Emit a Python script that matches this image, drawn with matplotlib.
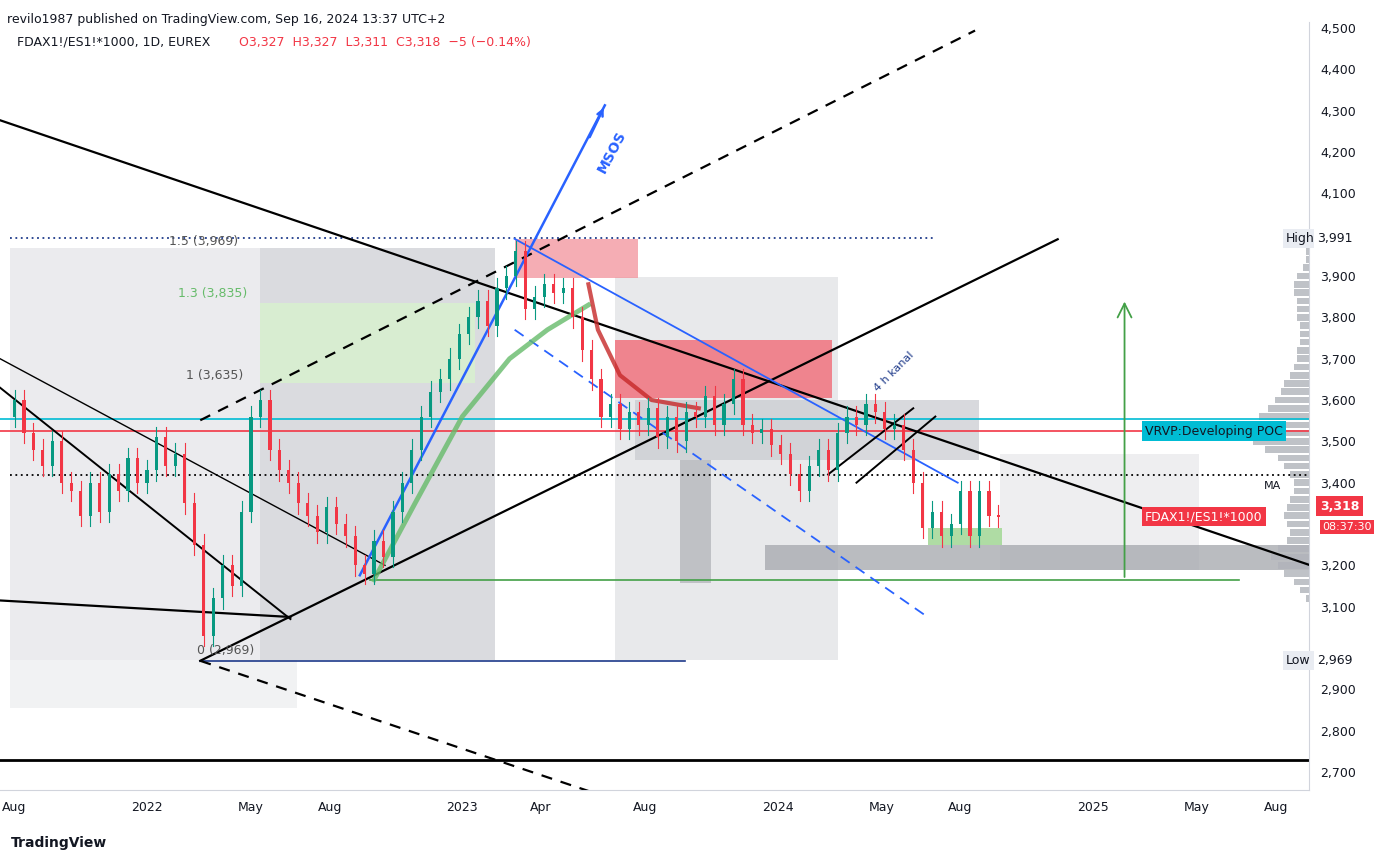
import matplotlib.pyplot as plt
from matplotlib.patches import Rectangle
from matplotlib.ticker import FuncFormatter

# price path (fractional year, close)
dates = [2021.55, 2021.58, 2021.61, 2021.64, 2021.67, 2021.70, 2021.73, 2021.76, 2021.79, 2021.82,
         2021.85, 2021.88, 2021.91, 2021.94, 2021.97, 2022.00, 2022.03, 2022.06, 2022.09, 2022.12,
         2022.15, 2022.18, 2022.21, 2022.24, 2022.27, 2022.30, 2022.33, 2022.36, 2022.39, 2022.42,
         2022.45, 2022.48, 2022.51, 2022.54, 2022.57, 2022.60, 2022.63, 2022.66, 2022.69, 2022.72,
         2022.75, 2022.78, 2022.81, 2022.84, 2022.87, 2022.90, 2022.93, 2022.96, 2022.99, 2023.02,
         2023.05, 2023.08, 2023.11, 2023.14, 2023.17, 2023.20, 2023.23, 2023.26, 2023.29, 2023.32,
         2023.35, 2023.38, 2023.41, 2023.44, 2023.47, 2023.50, 2023.53, 2023.56, 2023.59, 2023.62,
         2023.65, 2023.68, 2023.71, 2023.74, 2023.77, 2023.80, 2023.83, 2023.86, 2023.89, 2023.92,
         2023.95, 2023.98, 2024.01, 2024.04, 2024.07, 2024.10, 2024.13, 2024.16, 2024.19, 2024.22,
         2024.25, 2024.28, 2024.31, 2024.34, 2024.37, 2024.40, 2024.43, 2024.46, 2024.49, 2024.52,
         2024.55, 2024.58, 2024.61, 2024.64, 2024.67, 2024.70]
closes = [3560, 3600, 3520, 3480, 3440, 3500, 3400, 3380, 3320, 3400,
          3330, 3420, 3380, 3460, 3400, 3430, 3510, 3440, 3470, 3350,
          3250, 3030, 3120, 3200, 3150, 3330, 3560, 3600, 3480, 3430,
          3400, 3350, 3320, 3280, 3340, 3300, 3270, 3200, 3180, 3260,
          3220, 3330, 3400, 3480, 3560, 3620, 3650, 3700, 3760, 3800,
          3840, 3780, 3870, 3900, 3960, 3820, 3850, 3880, 3860, 3870,
          3800, 3720, 3650, 3560, 3590, 3530, 3570, 3540, 3580, 3510,
          3560, 3500, 3570, 3560, 3610, 3540, 3590, 3650, 3540, 3520,
          3530, 3490, 3470, 3420, 3380, 3440, 3480, 3430, 3520, 3560,
          3540, 3590, 3570, 3530, 3540, 3480, 3400, 3290, 3330, 3270,
          3300, 3380, 3270, 3380, 3320, 3318]

# volume profile (price level, width in years)
vp_levels = [3120, 3140, 3160, 3180, 3200, 3220, 3240, 3260, 3280, 3300, 3320, 3340, 3360, 3380,
             3400, 3420, 3440, 3460, 3480, 3500, 3520, 3540, 3560, 3580, 3600, 3620, 3640, 3660,
             3680, 3700, 3720, 3740, 3760, 3780, 3800, 3820, 3840, 3860, 3880, 3900, 3920, 3940, 3960]
vp_width = [0.01, 0.03, 0.05, 0.08, 0.10, 0.12, 0.10, 0.07, 0.06, 0.07, 0.08, 0.07, 0.06, 0.05,
            0.05, 0.06, 0.08, 0.10, 0.14, 0.18, 0.22, 0.20, 0.16, 0.13, 0.11, 0.09, 0.08, 0.06,
            0.05, 0.04, 0.04, 0.03, 0.03, 0.03, 0.04, 0.04, 0.04, 0.05, 0.05, 0.04, 0.02, 0.01, 0.01]

tick_pos = [2021.58, 2022.0, 2022.33, 2022.58, 2023.0, 2023.25, 2023.58, 2024.0, 2024.33, 2024.58,
            2025.0, 2025.33, 2025.58]
tick_lab = ["Aug", "2022", "May", "Aug", "2023", "Apr", "Aug", "2024", "May", "Aug", "2025", "May", "Aug"]
y_ticks = [2700, 2800, 2900, 3100, 3200, 3400, 3500, 3600, 3700, 3800, 3900,
           4100, 4200, 4300, 4400, 4500]

fig = plt.figure(figsize=(13.87, 8.57), dpi=100)
ax = fig.add_axes([0.0, 0.078, 0.944, 0.896])
x0, x1 = 2021.534, 2025.686
ax.set_xlim(x0, x1)
ax.set_ylim(2656, 4514)

# shaded boxes
boxes = [
    (2021.566, 2971, 2023.103, 3967, "#e6e7ea", 0.8),
    (2021.566, 2855, 2022.475, 2971, "#eeeff1", 0.8),
    (2022.358, 2971, 2023.103, 3967, "#cfd1d6", 0.6),
    (2022.358, 3640, 2023.040, 3835, "#d8f0d0", 0.9),
    (2023.483, 2971, 2024.190, 3897, "#e3e4e7", 0.8),
    (2023.547, 3455, 2024.640, 3600, "#c8cacf", 0.7),
    (2023.690, 3157, 2023.790, 3455, "#aeb0b6", 0.7),
    (2024.704, 3188, 2025.337, 3470, "#e3e4e7", 0.6),
    (2023.959, 3188, x1, 3249, "#a9abb1", 0.8),
    (2023.166, 3895, 2023.556, 3990, "#f28b94", 0.7),
    (2023.483, 3605, 2024.171, 3745, "#f26b77", 0.8),
    (2024.476, 3249, 2024.713, 3290, "#a6d99a", 0.9),
]
for bx0, by0, bx1, by1, c, a in boxes:
    ax.add_patch(Rectangle((bx0, by0), bx1 - bx0, by1 - by0, color=c, alpha=a, lw=0, zorder=1))

# volume profile from right edge
for lv, w in zip(vp_levels, vp_width):
    ax.add_patch(Rectangle((x1 - w, lv - 8), w, 16, color="#b0b3ba", alpha=0.8, lw=0, zorder=1))

# horizontal levels
ax.axhline(3525, color="#f23645", lw=1.2, zorder=2)
ax.axhline(3555, color="#00bcd4", lw=1.2, zorder=2)
ax.plot([2021.566, 2025.686], [3418, 3418], color="black", ls=(0, (1, 2)), lw=1.3, zorder=2)
ax.plot([2021.566, 2024.500], [3991, 3991], color="#1e3a8a", ls=(0, (1, 2)), lw=1.3, zorder=2)
ax.plot([2022.169, 2023.706], [2969, 2969], color="#1e3a8a", lw=1.2, zorder=2)
ax.plot([2022.707, 2025.463], [3165, 3165], color="#43a047", lw=1.2, zorder=2)
ax.axhline(2730, color="black", lw=2, zorder=2)

# trend lines
ax.plot([x0, x1], [4277, 3201], color="black", lw=1.6, zorder=3)
ax.plot([2022.169, 2024.888], [2969, 3989], color="black", lw=1.6, zorder=3)
ax.plot([2022.169, 2024.626], [3551, 4494], color="black", ls=(0, (5, 4)), lw=1.6, zorder=3)
ax.plot([2022.169, 2023.435], [2969, 2645], color="black", ls=(0, (5, 4)), lw=1.6, zorder=3)
ax.plot([x0, 2022.455], [3115, 3075], color="black", lw=1.6, zorder=3)
ax.plot([x0, 2022.755], [3700, 3200], color="black", lw=1.0, zorder=3)
ax.plot([x0, 2022.455], [3630, 3070], color="black", lw=1.4, zorder=3)
ax.plot([2022.675, 2023.452], [3176, 4313], color="#2962ff", lw=1.8, zorder=4)
ax.annotate("", xy=(2023.452, 4313), xytext=(2023.40, 4230),
            arrowprops=dict(arrowstyle="->", color="#2962ff", lw=1.8))
ax.text(2023.42, 4150, "MSOS", color="#2962ff", rotation=62, fontsize=10, fontweight="bold")
ax.plot([2023.166, 2024.571], [3990, 3400], color="#2962ff", lw=1.3, zorder=4)
ax.plot([2023.166, 2024.466], [3770, 3080], color="#2962ff", lw=1.3, ls=(0, (6, 4)), zorder=4)
ax.plot([2022.72, 2022.85, 2023.0, 2023.15, 2023.27, 2023.40], [3165, 3350, 3560, 3700, 3770, 3830],
        color="#66bb6a", lw=3.5, alpha=0.8, zorder=4)
ax.plot([2023.40, 2023.43, 2023.50, 2023.60, 2023.75], [3880, 3770, 3660, 3600, 3580],
        color="#c62828", lw=3, alpha=0.8, zorder=4)
ax.plot([2024.16, 2024.43], [3420, 3580], color="black", lw=1.4, zorder=4)
ax.plot([2024.25, 2024.50], [3400, 3560], color="black", lw=1.4, zorder=4)
ax.text(2024.30, 3620, "4 h kanal", rotation=45, fontsize=8, color="#1e3a8a")

ax.annotate("", xy=(2025.10, 3845), xytext=(2025.10, 3165),
            arrowprops=dict(arrowstyle="->", color="#43a047", lw=1.3, mutation_scale=25))

# candles
for i in range(1, len(closes)):
    o, c = closes[i - 1], closes[i]
    col = "#089981" if c >= o else "#f23645"
    ax.plot([dates[i], dates[i]], [min(o, c) - 25, max(o, c) + 25], color=col, lw=0.8, zorder=5)
    ax.add_patch(Rectangle((dates[i] - 0.005, min(o, c)), 0.010, max(abs(c - o), 3),
                           color=col, lw=0, zorder=5))

# fib labels
ax.text(2022.16, 2985, "0 (2,969)", fontsize=9, color="#555")
ax.text(2022.125, 3650, "1 (3,635)", fontsize=9, color="#555")
ax.text(2022.10, 3850, "1.3 (3,835)", fontsize=9, color="#66bb6a")
ax.text(2022.07, 3975, "1.5 (3,969)", fontsize=9, color="#555")

# axes styling
ax.yaxis.tick_right()
ax.set_yticks(y_ticks)
ax.yaxis.set_major_formatter(FuncFormatter(lambda v, p: f"{v:,.0f}"))
ax.set_xticks(tick_pos)
ax.set_xticklabels(tick_lab)
ax.tick_params(labelsize=9, colors="#131722", length=0, pad=8)
for s in ax.spines.values():
    s.set_visible(False)
ax.spines["right"].set_visible(True)
ax.spines["right"].set_color("#d1d4dc")
ax.spines["bottom"].set_visible(True)
ax.spines["bottom"].set_color("#d1d4dc")

# right-axis labels
def tag(y, txt, fc, tc="white", xpos=1.0):
    ax.text(xpos, y, txt, transform=ax.get_yaxis_transform(), fontsize=9, color=tc, va="center",
            ha="left", bbox=dict(boxstyle="square,pad=0.25", fc=fc, ec="none"), zorder=10)

tag(3991, "High", "#e9ecf2", "#131722", 0.982)
tag(3991, "3,991", "#ffffff", "#131722", 1.006)
tag(2969, "Low", "#e9ecf2", "#131722", 0.982)
tag(2969, "2,969", "#ffffff", "#131722", 1.006)
tag(3525, "VRVP:Developing POC", "#00bcd4", "#131722", 0.8745)
tag(3318, "FDAX1!/ES1!*1000", "#f23645", "white", 0.8745)
ax.text(1.008, 3335, "3,318", transform=ax.get_yaxis_transform(), fontsize=9, color="white",
        fontweight="bold", bbox=dict(boxstyle="square,pad=0.3", fc="#f23645", ec="none"), zorder=10)
ax.text(1.01, 3285, "08:37:30", transform=ax.get_yaxis_transform(), fontsize=8, color="white",
        bbox=dict(boxstyle="square,pad=0.2", fc="#f23645", ec="none"), zorder=11)
ax.text(0.965, 3385, "MA", transform=ax.get_yaxis_transform(), fontsize=8, color="#131722")

fig.text(0.005, 0.985, "revilo1987 published on TradingView.com, Sep 16, 2024 13:37 UTC+2",
         fontsize=9, color="#131722", va="top")
fig.text(0.012, 0.958, "FDAX1!/ES1!*1000, 1D, EUREX", fontsize=9, color="#131722", va="top")
fig.text(0.172, 0.958, "O3,327  H3,327  L3,311  C3,318  −5 (−0.14%)", fontsize=9, color="#f23645", va="top")
fig.text(0.008, 0.012, "TradingView", fontsize=10, fontweight="bold", color="#131722")

fig.savefig("out.png", dpi=100)
